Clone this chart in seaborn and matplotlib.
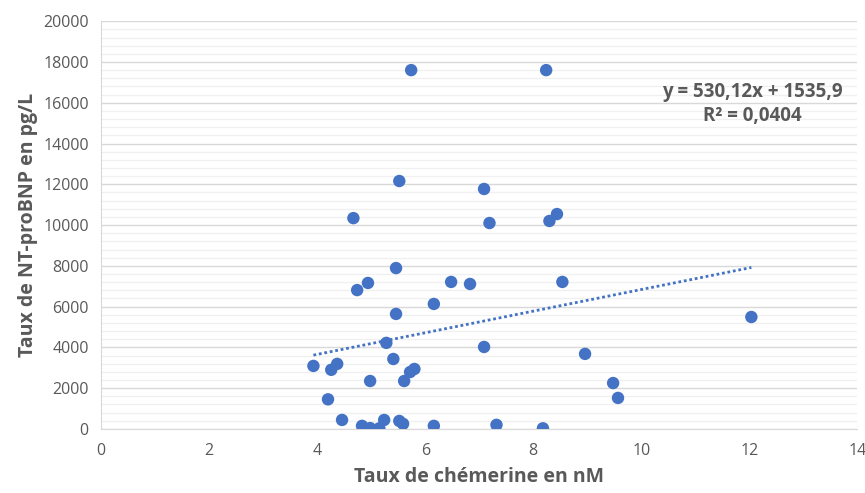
import numpy as np
import pandas as pd
import matplotlib
matplotlib.use('Agg')
import matplotlib.pyplot as plt
from matplotlib.ticker import MultipleLocator
import seaborn as sns

# Data
chemerine = [3.93, 4.20, 4.26, 4.37, 4.46, 4.67, 4.74, 4.83, 4.94, 4.98,
             4.98, 5.15, 5.24, 5.28, 5.41, 5.46, 5.46, 5.52, 5.52, 5.59,
             5.61, 5.72, 5.74, 5.80, 6.16, 6.16, 6.48, 6.83, 7.09, 7.09,
             7.19, 7.32, 8.18, 8.24, 8.30, 8.44, 8.54, 8.96, 9.48, 9.57,
             12.04]
ntprobnp = [3090, 1450, 2900, 3190, 440, 10340, 6810, 150, 7160, 2350,
            40, 30, 440, 4220, 3430, 5640, 7890, 12160, 390, 250,
            2350, 2790, 17600, 2940, 6130, 150, 7210, 7110, 11770, 4020,
            10100, 200, 30, 17600, 10200, 10540, 7210, 3680, 2250, 1520,
            5490]
slope = 530.12
intercept = 1535.9
r2 = 0.0404

df = pd.DataFrame({'chem': chemerine, 'bnp': ntprobnp})

sns.set_style('white')
plt.rcParams['font.family'] = ['Open Sans', 'DejaVu Sans']

blue = '#4472C4'
grey_txt = '#595959'

fig, ax = plt.subplots(figsize=(8.65, 4.93), dpi=100)
fig.subplots_adjust(left=0.117, right=0.991, top=0.957, bottom=0.130)

# gridlines
ax.yaxis.set_major_locator(MultipleLocator(2000))
ax.yaxis.set_minor_locator(MultipleLocator(400))
ax.xaxis.set_major_locator(MultipleLocator(2))
ax.grid(which='major', axis='y', color='#d9d9d9', lw=1)
ax.grid(which='minor', axis='y', color='#f0f0f0', lw=1)
ax.set_axisbelow(True)

# trendline
xt = np.array([min(chemerine), max(chemerine)])
ax.plot(xt, slope * xt + intercept, color=blue, lw=2, linestyle=(0, (1, 1)))

sns.scatterplot(data=df, x='chem', y='bnp', ax=ax, color=blue, s=80,
                edgecolor='none', zorder=3)

ax.set_xlim(0, 14)
ax.set_ylim(0, 20000)

for side in ['top', 'right']:
    ax.spines[side].set_visible(False)
for side in ['left', 'bottom']:
    ax.spines[side].set_color('#d9d9d9')

ax.tick_params(axis='both', which='major', colors='#d9d9d9', labelcolor=grey_txt,
               labelsize=11.5, length=5, width=1)
ax.tick_params(axis='y', which='minor', length=0)
ax.tick_params(axis='x', pad=5)
ax.tick_params(axis='y', pad=4)

ax.set_xlabel('Taux de chémerine en nM', fontsize=14, fontweight='bold',
              color=grey_txt, labelpad=6)
ax.set_ylabel('Taux de NT-proBNP en pg/L', fontsize=14, fontweight='bold',
              color=grey_txt, labelpad=4)

eq = 'y = {}x + {}'.format(str(slope).replace('.', ','), str(intercept).replace('.', ','))
ax.text(12.05, 15950, eq + '\n' + 'R² = ' + str(r2).replace('.', ','),
        ha='center', va='center', fontsize=13.5, fontweight='bold',
        color=grey_txt, linespacing=1.3)

plt.savefig('out.png', dpi=100)
